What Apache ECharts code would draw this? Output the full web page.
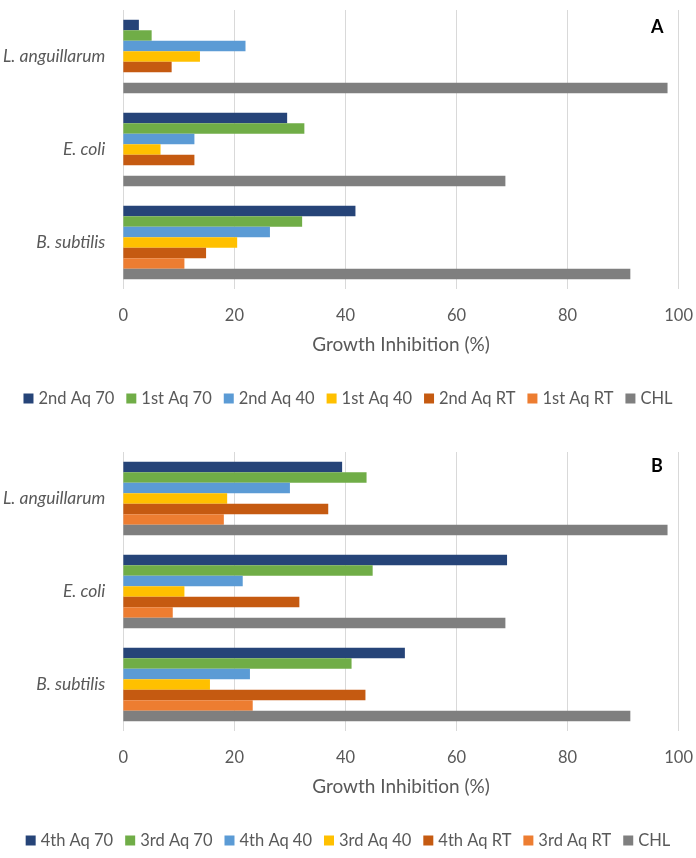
<!DOCTYPE html>
<html><head><meta charset="utf-8">
<script src="https://cdn.jsdelivr.net/npm/echarts@6/dist/echarts.min.js"></script>
<style>html,body{margin:0;padding:0;background:#fff}#c{width:696px;height:858px}</style>
</head><body><div id="c"></div>
<script>
const categories = ['L. anguillarum', 'E. coli', 'B. subtilis'];
const xTicks = [0, 20, 40, 60, 80, 100];
const colors = ['#264478', '#70AD47', '#5B9BD5', '#FFC000', '#C55A11', '#ED7D31', '#7F7F7F'];

const namesA = ['2nd Aq 70', '1st Aq 70', '2nd Aq 40', '1st Aq 40', '2nd Aq RT', '1st Aq RT', 'CHL'];
const a2ndAq70 = [2.8, 29.5, 41.8];
const a1stAq70 = [5.1, 32.6, 32.2];
const a2ndAq40 = [22.0, 12.8, 26.4];
const a1stAq40 = [13.8, 6.7, 20.5];
const a2ndAqRT = [8.7, 12.8, 14.9];
const a1stAqRT = [0, 0, 11.0];
const aCHL = [98.0, 68.8, 91.3];

const namesB = ['4th Aq 70', '3rd Aq 70', '4th Aq 40', '3rd Aq 40', '4th Aq RT', '3rd Aq RT', 'CHL'];
const b4thAq70 = [39.4, 69.1, 50.7];
const b3rdAq70 = [43.8, 44.9, 41.1];
const b4thAq40 = [30.0, 21.5, 22.8];
const b3rdAq40 = [18.7, 11.0, 15.6];
const b4thAqRT = [36.9, 31.7, 43.6];
const b3rdAqRT = [18.1, 8.9, 23.3];
const bCHL = [98.0, 68.8, 91.3];

const dataA = [a2ndAq70, a1stAq70, a2ndAq40, a1stAq40, a2ndAqRT, a1stAqRT, aCHL];
const dataB = [b4thAq70, b3rdAq70, b4thAq40, b3rdAq40, b4thAqRT, b3rdAqRT, bCHL];

const FONT = 'Lato';
const txt = '#595959';

function xAxis(gi) {
  return {
    type: 'value', gridIndex: gi, min: xTicks[0], max: xTicks[xTicks.length - 1], interval: xTicks[1] - xTicks[0],
    name: 'Growth Inhibition (%)', nameLocation: 'middle', nameGap: 46,
    nameTextStyle: { color: txt, fontSize: 19, fontFamily: FONT },
    axisLine: { show: false }, axisTick: { show: false },
    axisLabel: { color: txt, fontSize: 16.5, fontFamily: FONT, margin: 18 },
    splitLine: { lineStyle: { color: '#D9D9D9', width: 1 } }
  };
}
function yAxis(gi) {
  return {
    type: 'category', gridIndex: gi, data: categories, inverse: true,
    axisLine: { show: false }, axisTick: { show: false },
    axisLabel: { color: txt, fontSize: 17.5, fontStyle: 'italic', fontFamily: FONT, margin: 18 }
  };
}
const series = [];
namesA.forEach((n, i) => series.push({
  name: n, type: 'bar', xAxisIndex: 0, yAxisIndex: 0, data: dataA[i],
  itemStyle: { color: colors[i] }, barGap: '0%', barCategoryGap: '21%', silent: true
}));
namesB.forEach((n, i) => series.push({
  name: n, type: 'bar', xAxisIndex: 1, yAxisIndex: 1, data: dataB[i],
  itemStyle: { color: colors[i] }, barGap: '0%', barCategoryGap: '21%', silent: true
}));

const chart = echarts.init(document.getElementById('c'), null, { renderer: 'canvas' });
chart.setOption({
  animation: false,
  color: colors,
  grid: [
    { left: 123, width: 559, top: 10, height: 279 },
    { left: 123, width: 559, top: 452, height: 279 }
  ],
  xAxis: [xAxis(0), xAxis(1)],
  yAxis: [yAxis(0), yAxis(1)],
  legend: [
    { data: namesA, top: 385, left: 'center', itemWidth: 10, itemHeight: 10, itemGap: 12, icon: 'rect',
      textStyle: { color: txt, fontSize: 16.5, fontFamily: FONT } },
    { data: namesB, top: 827, left: 'center', itemWidth: 10, itemHeight: 10, itemGap: 12, icon: 'rect',
      textStyle: { color: txt, fontSize: 16.5, fontFamily: FONT } }
  ],
  graphic: [
    { type: 'text', left: 651, top: 18, style: { text: 'A', fontSize: 18, fontWeight: 'bold', fill: '#000', fontFamily: FONT } },
    { type: 'text', left: 651, top: 457, style: { text: 'B', fontSize: 18, fontWeight: 'bold', fill: '#000', fontFamily: FONT } }
  ],
  series: series
});
</script></body></html>
